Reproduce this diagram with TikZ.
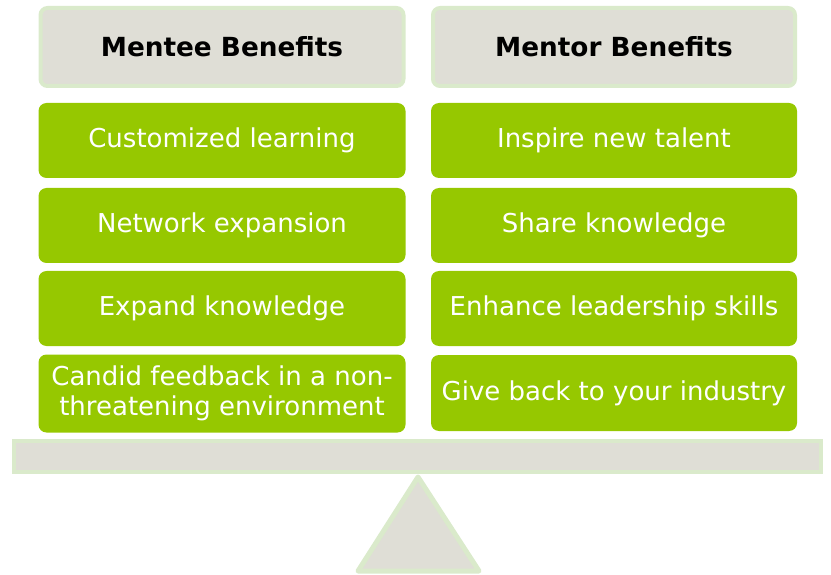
\documentclass[tikz,border=0pt]{standalone}
\usepackage{fontspec}
\setmainfont{DejaVu Sans}
\definecolor{leaf}{HTML}{96C800}
\definecolor{stone}{HTML}{DFDED6}
\definecolor{paleedge}{HTML}{DAEACB}
\begin{document}
\begin{tikzpicture}[x=1pt,y=-1pt,
  header/.style={rectangle,rounded corners=7pt,fill=stone,draw=paleedge,line width=4pt,
    minimum width=363pt,minimum height=78pt,inner sep=0pt,
    font=\fontsize{26.3}{30}\selectfont\bfseries,text=black},
  benefit/.style={rectangle,rounded corners=8pt,fill=leaf,draw=none,
    minimum width=367pt,minimum height=75pt,inner sep=0pt,align=center,
    font=\fontsize{26}{30}\selectfont,text=white}]
\useasboundingbox (0,0) rectangle (831,575);
\node[header] (lh) at (222,47) {Mentee Benefits};
\node[header,minimum width=362pt] (rh) at (614,47) {Mentor Benefits};
\node[benefit] (l1) at (222,140.5) {Customized learning};
\node[benefit] (l2) at (222,225.5) {Network expansion};
\node[benefit] (l3) at (222,308.5) {Expand knowledge};
\node[benefit,minimum height=78pt] (l4) at (222,393.5) {Candid feedback in a non-\\threatening environment};
\node[benefit,minimum width=366pt] (r1) at (614,140.5) {Inspire new talent};
\node[benefit,minimum width=366pt] (r2) at (614,225.5) {Share knowledge};
\node[benefit,minimum width=366pt] (r3) at (614,308.5) {Enhance leadership skills};
\node[benefit,minimum width=366pt,minimum height=76pt] (r4) at (614,393) {Give back to your industry};
\node[rectangle,fill=stone,draw=paleedge,line width=4pt,minimum width=807pt,minimum height=31pt,inner sep=0pt] (beam) at (417.5,456.5) {};
\draw[fill=stone,draw=paleedge,line width=5pt,line join=round] (418,477) -- (479,571) -- (358,571) -- cycle;
\end{tikzpicture}
\end{document}
